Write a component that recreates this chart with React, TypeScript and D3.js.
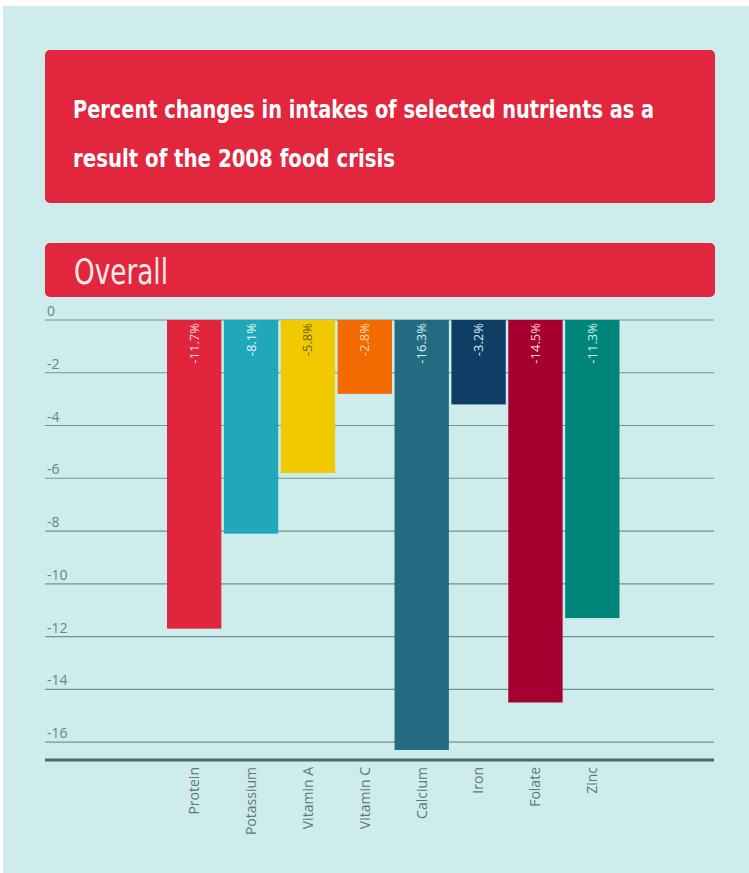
import React from "react";
import * as d3 from "d3";

const categories = ["Protein", "Potassium", "Vitamin A", "Vitamin C", "Calcium", "Iron", "Folate", "Zinc"];
const values = [-11.7, -8.1, -5.8, -2.8, -16.3, -3.2, -14.5, -11.3];
const barColors = ["#e1253d", "#20a7b9", "#f0c900", "#f26a00", "#246b81", "#0e3d66", "#a60030", "#00857b"];
const labelColors = ["#ffd9dd", "#e8fbfd", "#6f6400", "#ffd7bd", "#d6eef4", "#d6e4f2", "#ffd0da", "#d2f2ef"];
const yTicks = [0, -2, -4, -6, -8, -10, -12, -14, -16];
const titleLines = ["Percent changes in intakes of selected nutrients as a", "result of the 2008 food crisis"];
const subtitle = "Overall";

const W = 749;
const H = 873;

export default function App() {
  const x = d3.scaleBand<string>().domain(categories).range([167, 619.5]).paddingInner(0.045).paddingOuter(0);
  const y = d3.scaleLinear().domain([0, -16.68]).range([320, 760]);
  const gridX0 = 45;
  const gridX1 = 714;
  const condensed = "'Liberation Sans Narrow', 'DejaVu Sans Condensed', 'Roboto Condensed', sans-serif";
  const sans = "'Open Sans', 'Noto Sans', sans-serif";

  return (
    <div style={{ position: "absolute", left: 0, top: 0 }}>
      <svg width={W} height={H} style={{ display: "block" }}>
        <rect x={0} y={0} width={W} height={H} fill="#ffffff" />
        <rect x={3} y={6} width={W - 3} height={H - 6} fill="#cdeceb" />

        {/* title box */}
        <rect x={45} y={50} width={670} height={153} rx={5} fill="#e1263e" />
        {titleLines.map((t, i) => (
          <text
            key={i}
            x={73}
            y={118 + i * 49}
            fill="#ffffff"
            fontFamily={condensed}
            fontWeight="bold"
            fontSize={25}
            textLength={i === 0 ? 581 : 322}
            lengthAdjust="spacingAndGlyphs"
          >
            {t}
          </text>
        ))}

        {/* subtitle box */}
        <rect x={45} y={243} width={670} height={54} rx={5} fill="#e1263e" />
        <text
          x={74}
          y={284}
          fill="#fbeaea"
          fontFamily={condensed}
          fontSize={35}
          textLength={94}
          lengthAdjust="spacingAndGlyphs"
        >
          {subtitle}
        </text>

        {/* gridlines and tick labels */}
        {yTicks.map((t) => (
          <g key={t}>
            <line x1={gridX0} x2={gridX1} y1={y(t)} y2={y(t)} stroke="#6f9494" strokeWidth={1.2} />
            <text x={47} y={y(t) - 4} fill="#678585" fontFamily={sans} fontSize={14}>
              {t}
            </text>
          </g>
        ))}

        {/* bars */}
        {categories.map((c, i) => {
          const bx = x(c) as number;
          const bw = x.bandwidth();
          const v = values[i];
          return (
            <g key={c}>
              <rect x={bx} y={y(0)} width={bw} height={y(v) - y(0)} fill={barColors[i]} />
              <text
                transform={`translate(${bx + bw / 2},${y(0) + 3}) rotate(-90)`}
                textAnchor="end"
                dy="0.35em"
                fill={labelColors[i]}
                fontFamily={sans}
                fontSize={13}
              >
                {`${v.toFixed(1)}%`}
              </text>
            </g>
          );
        })}

        {/* bottom axis */}
        <line x1={gridX0} x2={gridX1} y1={y(-16.68)} y2={y(-16.68)} stroke="#4d6868" strokeWidth={3} />

        {/* category labels */}
        {categories.map((c) => {
          const cx = (x(c) as number) + x.bandwidth() / 2;
          return (
            <text
              key={c}
              transform={`translate(${cx},${y(-16.68) + 7}) rotate(-90)`}
              textAnchor="end"
              dy="0.35em"
              fill="#5e7878"
              fontFamily={sans}
              fontSize={14}
            >
              {c}
            </text>
          );
        })}
      </svg>
    </div>
  );
}
